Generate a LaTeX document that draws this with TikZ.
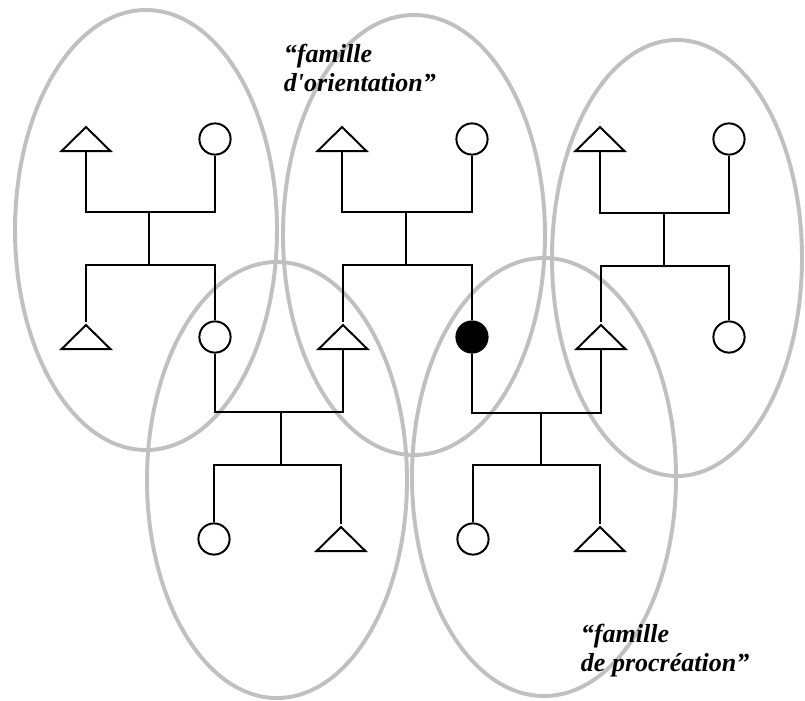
\documentclass[tikz,border=0pt]{standalone}
\usepackage{fontspec}
\setmainfont{Liberation Serif}
\usepackage{tikz}
\usetikzlibrary{shapes.geometric}

\definecolor{contour}{RGB}{192,192,192}

\begin{document}
\begin{tikzpicture}[x=0.025cm, y=-0.025cm, line width=1.4pt,
  male/.style={draw, isosceles triangle, shape border rotate=90,
    isosceles triangle stretches, inner sep=0pt,
    minimum width=1.22cm, minimum height=0.6cm, anchor=south},
  female/.style={draw, circle, inner sep=0pt, minimum size=0.78cm},
  ego/.style={female, fill=black},
  famille/.style={draw=contour, line width=2.8pt},
  titre/.style={font=\fontsize{18.5}{21}\selectfont\bfseries\itshape,
    align=left, inner sep=0pt, anchor=north west}]

\useasboundingbox ( 0, 0 ) rectangle ( 805, 700 );

% Families
\draw [famille] ( 146, 230 ) ellipse [x radius=131, y radius=220];
\draw [famille] ( 414, 235 ) ellipse [x radius=131, y radius=220];
\draw [famille] ( 677, 258 ) ellipse [x radius=125, y radius=218];
\draw [famille] ( 277, 480 ) ellipse [x radius=130, y radius=218];
\draw [famille] ( 544, 477 ) ellipse [x radius=132, y radius=219];

% Grandparents
\node (a1) at ( 86, 152 ) [male] {};
\node (a2) at ( 215, 139 ) [female] {};
\node (a3) at ( 342, 152 ) [male] {};
\node (a4) at ( 472, 139 ) [female] {};
\node (a5) at ( 600, 152 ) [male] {};
\node (a6) at ( 729, 139 ) [female] {};

% Parents and ego
\node (b1) at ( 86, 350 ) [male] {};
\node (b2) at ( 215, 337 ) [female] {};
\node (b3) at ( 343, 350 ) [male] {};
\node (b4) at ( 472, 337 ) [ego] {};
\node (b5) at ( 601, 350 ) [male] {};
\node (b6) at ( 729, 337 ) [female] {};

% Children
\node (c1) at ( 214, 539 ) [female] {};
\node (c2) at ( 341, 552 ) [male] {};
\node (c3) at ( 473, 539 ) [female] {};
\node (c4) at ( 600, 552 ) [male] {};

% Marriages and sibling bars
\coordinate (u1) at ( 149, 212 );
\coordinate (s1) at ( 149, 265 );
\coordinate (u2) at ( 406, 212 );
\coordinate (s2) at ( 406, 265 );
\coordinate (u3) at ( 664, 213 );
\coordinate (s3) at ( 664, 266 );
\coordinate (u4) at ( 281, 412 );
\coordinate (s4) at ( 281, 465 );
\coordinate (u5) at ( 541, 413 );
\coordinate (s5) at ( 541, 465 );

\draw (a1.south) |- (u1) -| (a2.south);
\draw (u1) -- (s1);
\draw (b1.north) |- (s1) -| (b2.north);

\draw (a3.south) |- (u2) -| (a4.south);
\draw (u2) -- (s2);
\draw (b3.north) |- (s2) -| (b4.north);

\draw (a5.south) |- (u3) -| (a6.south);
\draw (u3) -- (s3);
\draw (b5.north) |- (s3) -| (b6.north);

\draw (b2.south) |- (u4) -| (b3.south);
\draw (u4) -- (s4);
\draw (c1.north) |- (s4) -| (c2.north);

\draw (b4.south) |- (u5) -| (b5.south);
\draw (u5) -- (s5);
\draw (c3.north) |- (s5) -| (c4.north);

% Labels
\node (orient) at ( 283, 43 ) [titre] {“famille\\d\textquotesingle orientation”};
\node (procr) at ( 580, 623 ) [titre] {“famille\\de procréation”};

\end{tikzpicture}
\end{document}
